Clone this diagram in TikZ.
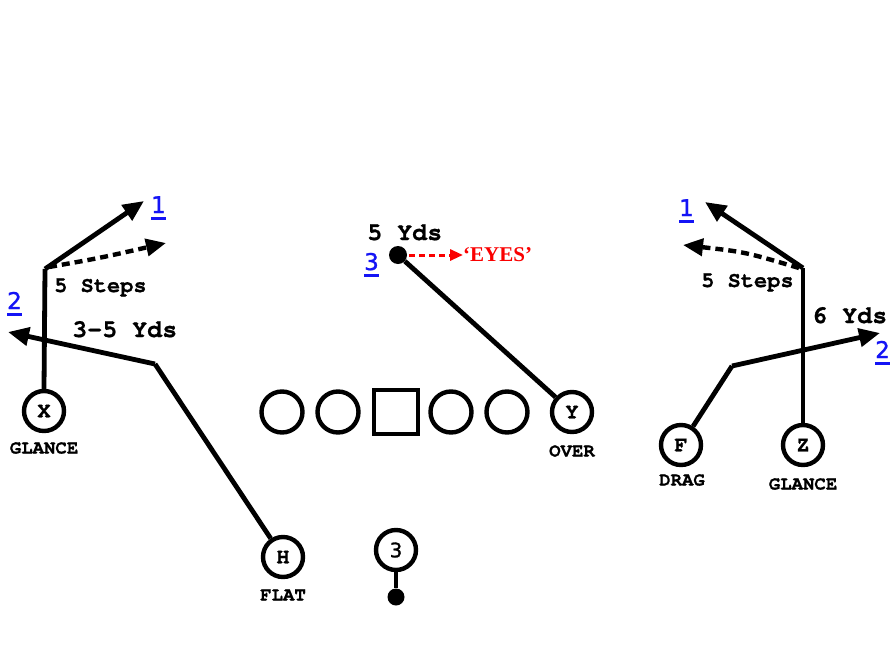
\documentclass[tikz,border=0pt]{standalone}
\usepackage{fontspec}
\setmainfont{Liberation Serif}
\newfontfamily\cour{TeX Gyre Cursor}[UprightFeatures={FakeBold=0.8},BoldFeatures={FakeBold=0.8}]
\newfontfamily\dvs{DejaVu Sans}[FakeBold=1.2]
\usetikzlibrary{arrows.meta}
\definecolor{numblue}{RGB}{20,20,245}
\definecolor{eyered}{RGB}{250,0,0}
\newcommand\bnum[1]{\vtop{\hbox{#1}\kern4pt\hrule height 2.8pt}}
\begin{document}
\begin{tikzpicture}[x=1pt,y=-1pt,
  player/.style={circle,draw,line width=4.4pt,minimum size=40pt,inner sep=0pt,font=\cour\bfseries\fontsize{22}{22}\selectfont},
  lineman/.style={circle,draw,line width=4.4pt,minimum size=41pt,inner sep=0pt},
  center/.style={rectangle,draw,line width=4.4pt,minimum size=44pt,inner sep=0pt},
  route/.style={line width=4.8pt},
  rarrow/.style={route,-{Triangle[length=21pt,width=18pt]}},
  darrow/.style={line width=4.4pt,dash pattern=on 8pt off 5pt,-{Triangle[length=20pt,width=17pt]}},
  tag/.style={font=\cour\bfseries\fontsize{19}{19}\selectfont,inner sep=0pt},
  yds/.style={font=\cour\bfseries\fontsize{23}{23}\selectfont,inner sep=0pt,anchor=base west},
  num/.style={font=\dvs\fontsize{23}{23}\selectfont,text=numblue,inner sep=0pt,anchor=base west},
  dot/.style={circle,fill,inner sep=0pt,minimum size=18pt}]
\useasboundingbox (0,0) rectangle (895,651);

% offensive line
\node[lineman] (lt) at (282,412) {};
\node[lineman] (lg) at (338,412) {};
\node[center]  (c)  at (396,412) {};
\node[lineman] (rg) at (451,412) {};
\node[lineman] (rt) at (507,412) {};

% players
\node[player] (x) at (44,411) {X};
\node[tag] (xl) at (44,448) {GLANCE};
\node[player] (y) at (572,412) {Y};
\node[tag] (yl) at (572,451) {OVER};
\node[player] (h) at (283,557) {H};
\node[tag] (hl) at (283,595) {FLAT};
\node[player,font=\dvs\fontsize{20}{20}\selectfont] (qb) at (396,550) {3};
\node[dot,minimum size=17pt] (qbdot) at (396,597) {};
\node[player] (f) at (681,445) {F};
\node[tag] (fl) at (682,480) {DRAG};
\node[player] (z) at (803,445) {Z};
\node[tag] (zl) at (803,484) {GLANCE};

% X route
\coordinate (xc) at (45,269);
\coordinate (x1) at (144,201);
\coordinate (xd0) at (49,267);
\coordinate (x2) at (166,243);
\draw[route] (x.north) -- (xc);
\draw[rarrow] (xc) -- (x1);
\draw[darrow] (xd0) .. controls (100,258) .. (x2);

% H route
\coordinate (hc) at (155,364);
\coordinate (h2) at (8,332);
\draw[route,line join=miter] (h) -- (hc);
\draw[rarrow] (hc) -- (h2);

% Y route
\node[dot] (ydot) at (398,255) {};
\draw[route] (y) -- (ydot);
\coordinate (eyetip) at (463,255);
\draw[eyered,line width=3pt,dash pattern=on 6pt off 4pt,-{Triangle[length=13pt,width=11pt]}] (ydot.east) ++(2,0) coordinate (ey0) -- (eyetip);
\node[text=eyered,font=\bfseries\fontsize{21}{21}\selectfont,inner sep=0pt,anchor=west] (eyes) at (463,255) {`EYES'};

% QB
\draw[route] (qb.south) -- (qbdot);

% F route
\coordinate (fc) at (732,366);
\coordinate (f2) at (880,333);
\draw[route] (f) -- (fc);
\draw[rarrow] (fc) -- (f2);

% Z route
\coordinate (zc) at (803,268);
\coordinate (z1) at (705,202);
\coordinate (zd0) at (799,268);
\coordinate (z2) at (683,245);
\draw[route] (z.north) -- (zc);
\draw[rarrow] (zc) -- (z1);
\draw[darrow] (zd0) .. controls (745,252) .. (z2);

% texts
\node[yds,font=\cour\bfseries\fontsize{22}{22}\selectfont] (xs) at (54,292) {5 Steps};
\node[yds,font=\cour\bfseries\fontsize{25}{25}\selectfont] (hy) at (72,337) {3-5 Yds};
\node[yds,font=\cour\bfseries\fontsize{25}{25}\selectfont] (yy) at (367,240) {5 Yds};
\node[yds,font=\cour\bfseries\fontsize{22}{22}\selectfont] (zs) at (701,287) {5 Steps};
\node[yds,font=\cour\bfseries\fontsize{25}{25}\selectfont] (fy) at (812,323) {6 Yds};

\node[num] (n1l) at (151,213) {\bnum{1}};
\node[num] (n2l) at (7,309) {\bnum{2}};
\node[num] (n3) at (364,270) {\bnum{3}};
\node[num] (n1r) at (679,216) {\bnum{1}};
\node[num] (n2r) at (875,358) {\bnum{2}};
\end{tikzpicture}
\end{document}
